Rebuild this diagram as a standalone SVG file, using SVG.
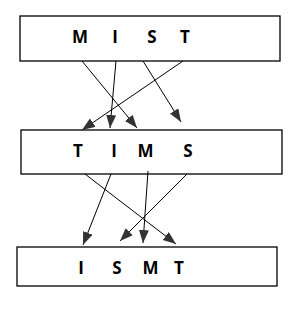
<svg xmlns="http://www.w3.org/2000/svg" width="300" height="312" viewBox="0 0 300 312">
<style>
.box{fill:#fff;stroke:#000;stroke-width:1.3}
.t{font-family:"Open Sans","Noto Sans",sans-serif;font-weight:bold;font-size:17px;fill:#000;text-anchor:middle}
.c{stroke:#000;stroke-width:1;fill:none;marker-end:url(#ah)}
</style>
<defs>
<marker id="ah" markerUnits="userSpaceOnUse" markerWidth="14" markerHeight="11" refX="13" refY="5" orient="auto">
<path d="M0,0 L13,5 L0,10 z" fill="#333"/>
</marker>
</defs>
<rect width="300" height="312" fill="#fff"/>
<g id="n1">
<rect class="box" x="20" y="16" width="260" height="45"/>
<text class="t" x="80" y="43">M</text><text class="t" x="115" y="43">I</text><text class="t" x="152" y="43">S</text><text class="t" x="185" y="43">T</text>
</g>
<g id="n2">
<rect class="box" x="21" y="130" width="261" height="44"/>
<text class="t" x="78" y="157">T</text><text class="t" x="114" y="157">I</text><text class="t" x="145.5" y="157">M</text><text class="t" x="188" y="157">S</text>
</g>
<g id="n3">
<rect class="box" x="17" y="247" width="260" height="39"/>
<text class="t" x="81" y="274">I</text><text class="t" x="117" y="274">S</text><text class="t" x="150.5" y="274">M</text><text class="t" x="179" y="274">T</text>
</g>
<g id="connectors">
<line class="c" x1="82" y1="61" x2="137" y2="128"/>
<line class="c" x1="116" y1="61" x2="110" y2="128"/>
<line class="c" x1="143" y1="61" x2="181" y2="122"/>
<line class="c" x1="183" y1="61" x2="82" y2="130"/>
<line class="c" x1="85" y1="174" x2="176" y2="244"/>
<line class="c" x1="111" y1="174" x2="83" y2="245"/>
<line class="c" x1="148" y1="171" x2="143" y2="243"/>
<line class="c" x1="187" y1="174" x2="120" y2="241"/>
</g>
</svg>
